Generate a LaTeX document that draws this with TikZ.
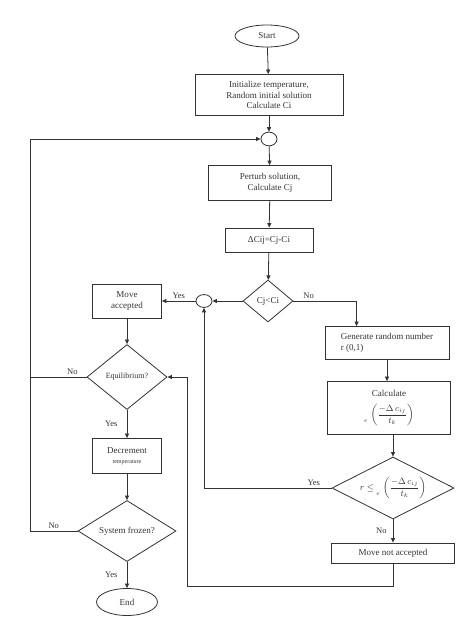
\documentclass[tikz,border=0pt]{standalone}
\usepackage{fontspec}
\setmainfont{Liberation Serif}
\usepackage{amsmath}
\usetikzlibrary{shapes.geometric,arrows.meta}

\newcommand{\expo}{\raisebox{-1.3ex}{\fontsize{6}{7}\selectfont$e$}\,\,$\left(\dfrac{-\Delta\,c_{ij}}{t_k}\right)$}

\begin{document}
\begin{tikzpicture}[x=0.035cm, y=-0.035cm, color=black!80, line width=0.8pt,
	font=\fontsize{9}{10.5}\selectfont,
	box/.style={draw, rectangle, align=center, inner sep=1pt},
	decision/.style={draw, diamond, align=center, inner sep=0pt, shape aspect=2},
	terminal/.style={draw, ellipse, inner sep=0pt},
	junction/.style={draw, ellipse, inner sep=0pt, minimum width=0.56cm, minimum height=0.48cm},
	link/.style={-{Triangle[length=4.5pt,width=4pt]}},
	lbl/.style={font=\fontsize{8.5}{10}\selectfont, inner sep=2pt}]

	\useasboundingbox (0,0) rectangle (474,617);

	\node[terminal, minimum width=2.24cm, minimum height=0.77cm] (start) at (267,36) {Start};
	\node[box, minimum width=5.18cm, minimum height=1.435cm] (init) at (269,95) {Initialize temperature,\\Random initial solution\\Calculate Ci};
	\node[junction] (join1) at (269,139) {};
	\node[box, minimum width=4.305cm, minimum height=1.225cm] (perturb) at (270,183) {Perturb solution,\\Calculate Cj};
	\node[box, minimum width=3.08cm, minimum height=0.84cm] (delta) at (269,240) {ΔCij=Cj-Ci};
	\node[decision, minimum width=1.75cm, minimum height=1.47cm] (cmp) at (268,301) {Cj<Ci};
	\node[junction, minimum height=0.45cm] (join2) at (204,301) {};
	\node[box, minimum width=2.415cm, minimum height=1.19cm] (accept) at (127,301) {Move\\accepted};
	\node[decision, minimum width=2.8cm, minimum height=2.275cm, font=\fontsize{8}{9}\selectfont] (equil) at (127,377) {Equilibrium?};
	\node[box, minimum width=2.415cm, minimum height=1.225cm] (decr) at (127,456) {Decrement\\{\fontsize{6}{7}\selectfont temperature}};
	\node[decision, minimum width=3.43cm, minimum height=2.135cm] (frozen) at (127,531) {System frozen?};
	\node[terminal, minimum width=2.135cm, minimum height=0.945cm] (stop) at (127,602) {End};

	\node[box, minimum width=4.34cm, minimum height=1.155cm, align=left] (gen) at (387,343) {Generate random number\\r (0,1)};
	\node[box, minimum width=4.305cm, minimum height=1.855cm] (calc) at (389,408) {Calculate\\[7pt]\expo};
	\node[decision, minimum width=4.27cm, minimum height=2.17cm, shape aspect=2.5] (metro) at (393,488) {$r\le$\ \expo};
	\node[box, minimum width=4.305cm, minimum height=0.7cm] (reject) at (393,553) {Move not accepted};

	\coordinate (rail) at (30,139);
	\coordinate (back) at (187,586);

	\draw[link] (start) -- (init);
	\draw[link] (init) -- (join1);
	\draw[link] (join1) -- (perturb);
	\draw[link] (perturb) -- (delta);
	\draw[link] (delta) -- (cmp);
	\draw[link] (cmp) -- (join2);
	\draw[link] (join2) -- node[lbl, above]{Yes} (accept);
	\draw[link] (cmp.east) -| node[lbl, above, pos=0.12]{No} ([xshift=1.12cm]gen.north west);
	\draw[link] (gen.south) -- (gen.south |- calc.north);
	\draw[link] (calc.south -| metro.north) -- (metro.north);
	\draw[link] (metro.west) -| node[lbl, above, pos=0.07]{Yes} (join2.south);
	\draw[link] (metro) -- node[lbl, left=4pt]{No} (reject);
	\draw[link] (reject.south) |- (back) |- (equil.east);

	\draw[link] (accept) -- (equil);
	\draw (equil.west) -- node[lbl, above, pos=0.25]{No} (equil.west -| rail);
	\draw[link] (equil) -- node[lbl, left=7pt]{Yes} (decr);
	\draw[link] (decr) -- (frozen);
	\draw[link] (frozen.west) -| node[lbl, above, pos=0.25]{No} (rail) -- (join1.west);
	\draw[link] (frozen) -- node[lbl, left=7pt]{Yes} (stop);

\end{tikzpicture}
\end{document}
